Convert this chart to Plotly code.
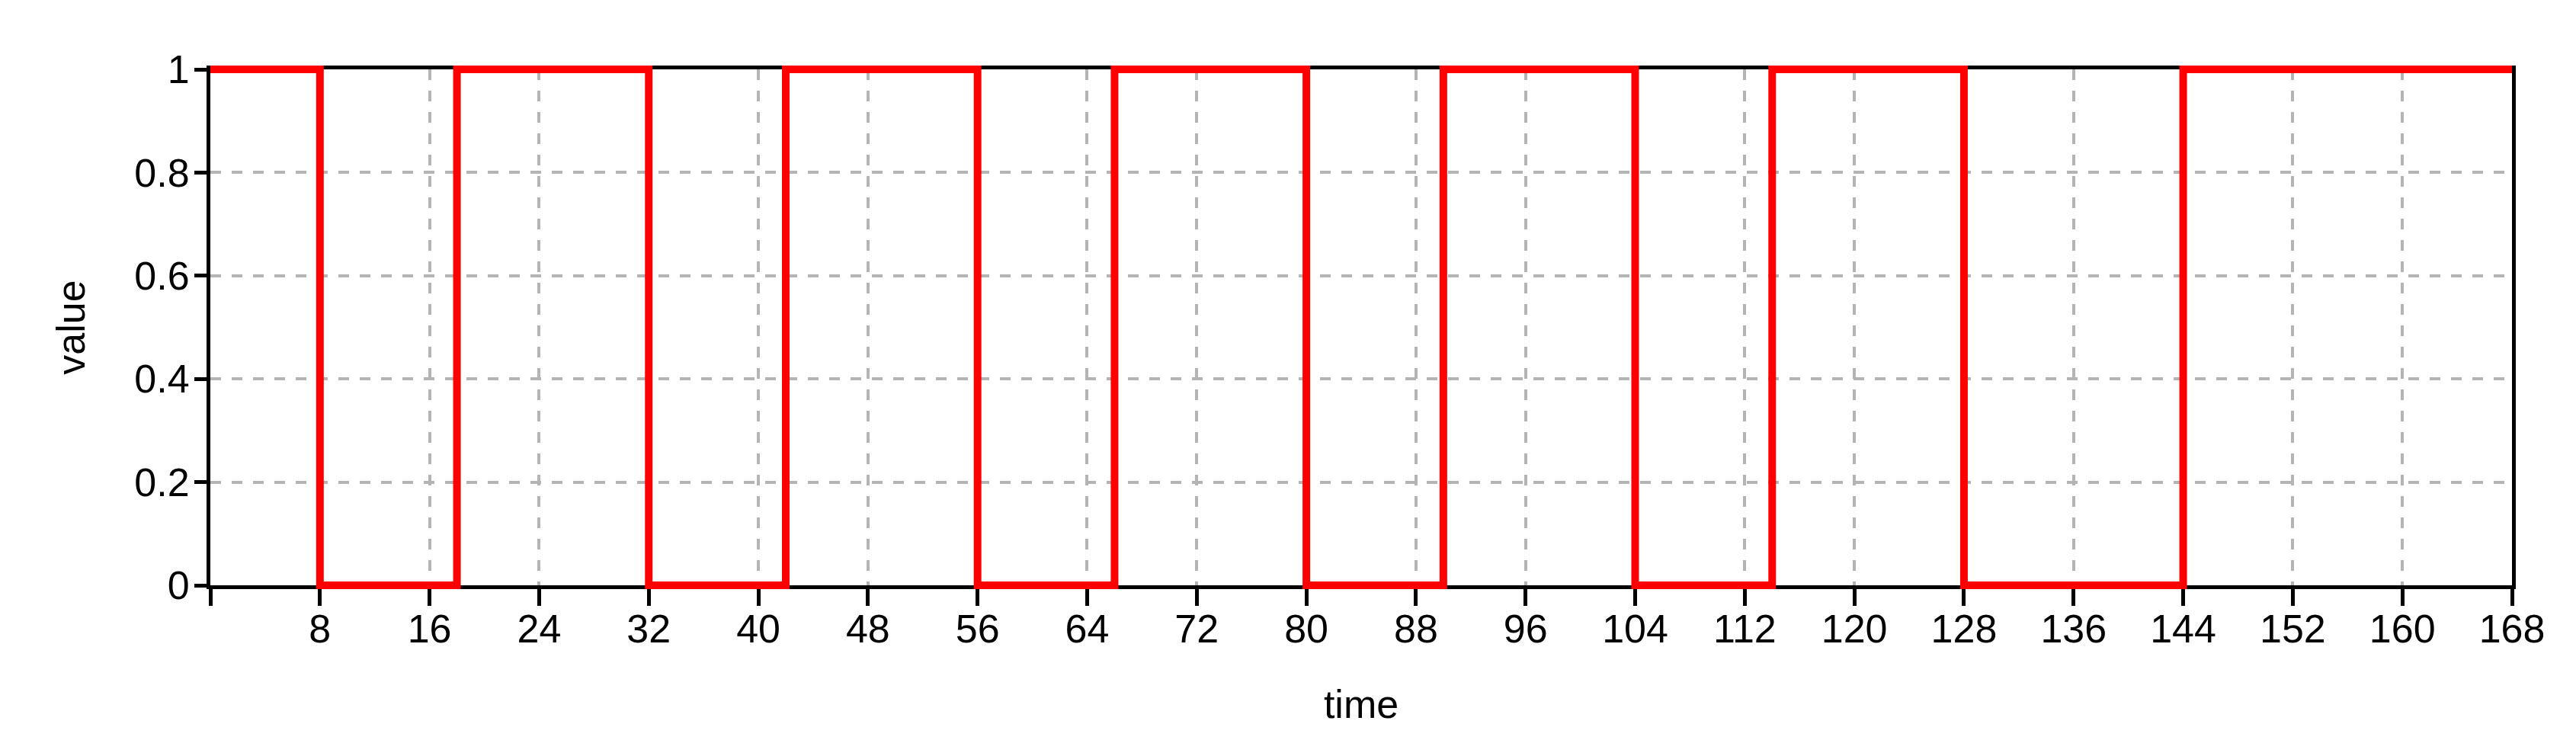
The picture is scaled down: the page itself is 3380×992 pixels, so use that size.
import plotly.graph_objects as go

# ---- data ----
time_points = [0, 8, 18, 32, 42, 56, 66, 80, 90, 104, 114, 128, 144, 168]
values = [1, 0, 1, 0, 1, 0, 1, 0, 1, 0, 1, 0, 1, 1]
x_tick_vals = list(range(0, 169, 8))
x_tick_text = [""] + [str(v) for v in x_tick_vals[1:]]
y_tick_vals = [0, 0.2, 0.4, 0.6, 0.8, 1]
y_tick_text = ["0", "0.2", "0.4", "0.6", "0.8", "1"]
x_title = "time"
y_title = "value"
x_range = [0, 168]
y_range = [0, 1]

# ---- layout geometry ----
W, H = 3380, 992
PL, PR, PT, PB = 268, 3288, 83, 760   # visible frame in pixels
PAD = 12                              # extra room so the thick line is not clipped
ml, mr, mt, mb = PL - PAD, W - PR - PAD, PT - PAD, H - PB - PAD
area_w = W - ml - mr
area_h = H - mt - mb
fw = PR - PL
fh = PB - PT

xd = [PAD / area_w, 1 - PAD / area_w]
yd = [PAD / area_h, 1 - PAD / area_h]

xs = (x_range[1] - x_range[0]) / fw
ys = (y_range[1] - y_range[0]) / fh
x2_range = [x_range[0] - PAD * xs, x_range[1] + PAD * xs]
y2_range = [y_range[0] - PAD * ys, y_range[1] + PAD * ys]

FONT = "Liberation Sans, Arial, sans-serif"
FS = 52

fig = go.Figure()
# empty trace so the framed subplot (axes, grid, ticks) is drawn
fig.add_trace(go.Scatter(x=[], y=[], mode="lines", xaxis="x", yaxis="y",
                         showlegend=False, hoverinfo="skip"))
fig.add_trace(go.Scatter(
    x=time_points, y=values, mode="lines",
    line=dict(color="#ff0000", width=10, shape="hv"),
    xaxis="x2", yaxis="y2", showlegend=False, hoverinfo="skip",
))

fig.update_layout(
    width=W, height=H,
    margin=dict(l=ml, r=mr, t=mt, b=mb, pad=0),
    paper_bgcolor="white",
    plot_bgcolor="rgba(0,0,0,0)",
    font=dict(family=FONT, size=FS, color="black"),
    showlegend=False,
    xaxis=dict(
        domain=xd, range=x_range, anchor="y",
        tickmode="array", tickvals=x_tick_vals, ticktext=x_tick_text,
        ticks="outside", ticklen=22, tickwidth=5, tickcolor="black",
        ticklabelstandoff=-14,
        showline=True, linewidth=5, linecolor="black", mirror=True,
        showgrid=True, gridcolor="#b4b4b4", gridwidth=4, griddash="14px,14px",
        zeroline=False,
        title=dict(text=x_title, standoff=54, font=dict(family=FONT, size=FS)),
        tickfont=dict(family=FONT, size=FS),
    ),
    yaxis=dict(
        domain=yd, range=y_range, anchor="x",
        tickmode="array", tickvals=y_tick_vals, ticktext=y_tick_text,
        ticks="outside", ticklen=16, tickwidth=5, tickcolor="black",
        ticklabelstandoff=-4,
        showline=True, linewidth=5, linecolor="black", mirror=True,
        showgrid=True, gridcolor="#b4b4b4", gridwidth=4, griddash="14px,14px",
        zeroline=False,
        title=dict(text=y_title, standoff=50, font=dict(family=FONT, size=FS)),
        tickfont=dict(family=FONT, size=FS),
    ),
    xaxis2=dict(domain=[0, 1], range=x2_range, anchor="y2", visible=False,
                showgrid=False, zeroline=False),
    yaxis2=dict(domain=[0, 1], range=y2_range, anchor="x2", visible=False,
                showgrid=False, zeroline=False),
)

fig.write_html("out.html")
